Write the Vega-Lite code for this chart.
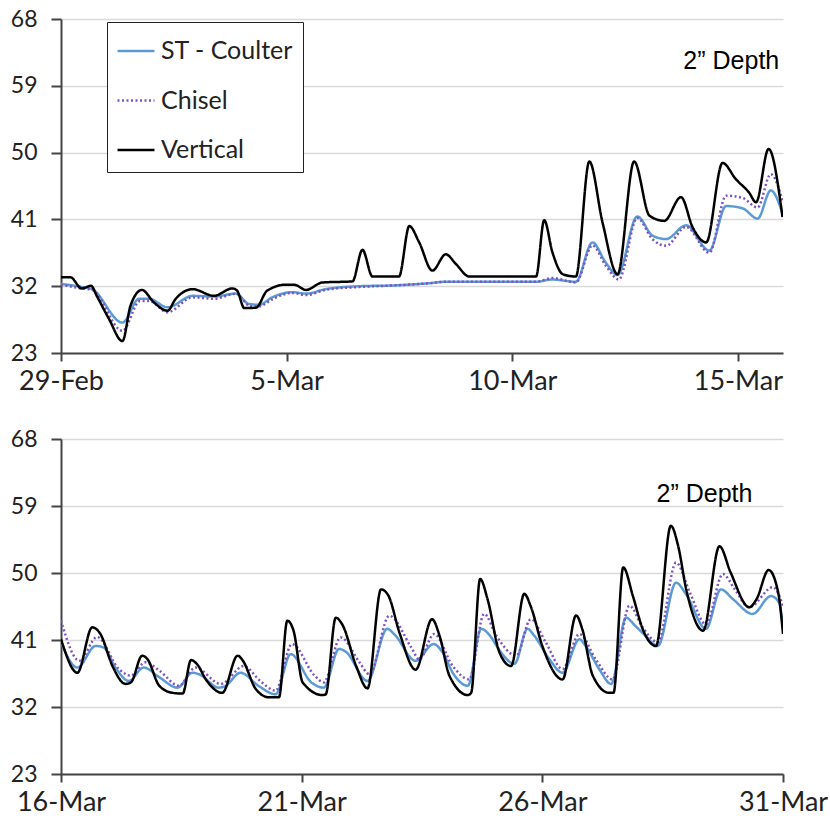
{
  "$schema": "https://vega.github.io/schema/vega-lite/v6.json",
  "background": "white",
  "padding": {"left": 10, "top": 8, "right": 0, "bottom": 0},
  "spacing": 34,
  "config": {
    "view": {"stroke": null},
    "font": "Lato",
    "axis": {
      "domainColor": "#444",
      "domainWidth": 2,
      "tickColor": "#444",
      "tickWidth": 2,
      "labelColor": "#222",
      "labelFont": "Lato",
      "title": null
    },
    "axisY": {
      "gridColor": "#d9d9d9",
      "gridWidth": 1.5,
      "tickSize": 10,
      "labelPadding": 14,
      "labelFontSize": 23
    },
    "axisX": {
      "grid": false,
      "tickSize": 8,
      "labelPadding": 7,
      "labelFontSize": 27,
      "labelFlush": false,
      "labelOverlap": false,
      "labelBound": false
    }
  },
  "resolve": {"legend": {"color": "independent", "strokeDash": "independent"}},
  "datasets": {
    "top": [
      {"series": "ST - Coulter", "time": "2016-02-29T00:00", "temp": 32.3},
      {"series": "ST - Coulter", "time": "2016-02-29T11:00", "temp": 31.9},
      {"series": "ST - Coulter", "time": "2016-02-29T16:30", "temp": 31.6},
      {"series": "ST - Coulter", "time": "2016-03-01T08:40", "temp": 27.1},
      {"series": "ST - Coulter", "time": "2016-03-01T17:30", "temp": 30.3},
      {"series": "ST - Coulter", "time": "2016-03-01T22:50", "temp": 30.3},
      {"series": "ST - Coulter", "time": "2016-03-02T08:40", "temp": 29.15},
      {"series": "ST - Coulter", "time": "2016-03-02T22:00", "temp": 30.7},
      {"series": "ST - Coulter", "time": "2016-03-03T09:20", "temp": 30.6},
      {"series": "ST - Coulter", "time": "2016-03-03T21:00", "temp": 31.0},
      {"series": "ST - Coulter", "time": "2016-03-04T04:00", "temp": 29.6},
      {"series": "ST - Coulter", "time": "2016-03-04T09:20", "temp": 29.5},
      {"series": "ST - Coulter", "time": "2016-03-04T16:20", "temp": 30.5},
      {"series": "ST - Coulter", "time": "2016-03-05T03:00", "temp": 31.2},
      {"series": "ST - Coulter", "time": "2016-03-05T10:20", "temp": 31.0},
      {"series": "ST - Coulter", "time": "2016-03-05T20:40", "temp": 31.6},
      {"series": "ST - Coulter", "time": "2016-03-06T14:40", "temp": 32.0},
      {"series": "ST - Coulter", "time": "2016-03-07T08:30", "temp": 32.1},
      {"series": "ST - Coulter", "time": "2016-03-08T03:50", "temp": 32.4},
      {"series": "ST - Coulter", "time": "2016-03-08T12:40", "temp": 32.6},
      {"series": "ST - Coulter", "time": "2016-03-10T12:40", "temp": 32.6},
      {"series": "ST - Coulter", "time": "2016-03-10T21:20", "temp": 32.9},
      {"series": "ST - Coulter", "time": "2016-03-11T09:50", "temp": 32.6},
      {"series": "ST - Coulter", "time": "2016-03-11T18:40", "temp": 37.9},
      {"series": "ST - Coulter", "time": "2016-03-12T01:40", "temp": 35.2},
      {"series": "ST - Coulter", "time": "2016-03-12T08:00", "temp": 33.5},
      {"series": "ST - Coulter", "time": "2016-03-12T18:30", "temp": 41.4},
      {"series": "ST - Coulter", "time": "2016-03-13T02:40", "temp": 38.8},
      {"series": "ST - Coulter", "time": "2016-03-13T09:50", "temp": 38.35},
      {"series": "ST - Coulter", "time": "2016-03-13T20:25", "temp": 40.2},
      {"series": "ST - Coulter", "time": "2016-03-14T08:50", "temp": 36.8},
      {"series": "ST - Coulter", "time": "2016-03-14T17:45", "temp": 42.8},
      {"series": "ST - Coulter", "time": "2016-03-15T02:25", "temp": 42.5},
      {"series": "ST - Coulter", "time": "2016-03-15T10:30", "temp": 41.1},
      {"series": "ST - Coulter", "time": "2016-03-15T17:30", "temp": 44.9},
      {"series": "ST - Coulter", "time": "2016-03-15T23:45", "temp": 41.8},

      {"series": "Chisel", "time": "2016-02-29T00:00", "temp": 32.2},
      {"series": "Chisel", "time": "2016-02-29T11:00", "temp": 31.7},
      {"series": "Chisel", "time": "2016-02-29T16:30", "temp": 31.5},
      {"series": "Chisel", "time": "2016-03-01T08:40", "temp": 26.0},
      {"series": "Chisel", "time": "2016-03-01T18:00", "temp": 30.0},
      {"series": "Chisel", "time": "2016-03-01T22:50", "temp": 30.0},
      {"series": "Chisel", "time": "2016-03-02T08:40", "temp": 28.5},
      {"series": "Chisel", "time": "2016-03-02T22:00", "temp": 30.5},
      {"series": "Chisel", "time": "2016-03-03T09:20", "temp": 30.3},
      {"series": "Chisel", "time": "2016-03-03T21:00", "temp": 31.0},
      {"series": "Chisel", "time": "2016-03-04T04:50", "temp": 29.3},
      {"series": "Chisel", "time": "2016-03-04T09:20", "temp": 29.3},
      {"series": "Chisel", "time": "2016-03-04T16:50", "temp": 30.3},
      {"series": "Chisel", "time": "2016-03-05T03:00", "temp": 31.1},
      {"series": "Chisel", "time": "2016-03-05T10:20", "temp": 30.8},
      {"series": "Chisel", "time": "2016-03-05T20:40", "temp": 31.5},
      {"series": "Chisel", "time": "2016-03-06T14:40", "temp": 31.9},
      {"series": "Chisel", "time": "2016-03-07T08:30", "temp": 32.1},
      {"series": "Chisel", "time": "2016-03-08T03:50", "temp": 32.4},
      {"series": "Chisel", "time": "2016-03-08T12:40", "temp": 32.6},
      {"series": "Chisel", "time": "2016-03-10T12:40", "temp": 32.6},
      {"series": "Chisel", "time": "2016-03-10T21:20", "temp": 33.1},
      {"series": "Chisel", "time": "2016-03-11T09:50", "temp": 32.5},
      {"series": "Chisel", "time": "2016-03-11T18:40", "temp": 37.5},
      {"series": "Chisel", "time": "2016-03-12T01:40", "temp": 34.8},
      {"series": "Chisel", "time": "2016-03-12T08:40", "temp": 32.9},
      {"series": "Chisel", "time": "2016-03-12T18:30", "temp": 41.2},
      {"series": "Chisel", "time": "2016-03-13T02:40", "temp": 38.3},
      {"series": "Chisel", "time": "2016-03-13T09:50", "temp": 37.45},
      {"series": "Chisel", "time": "2016-03-13T20:25", "temp": 40.0},
      {"series": "Chisel", "time": "2016-03-14T08:50", "temp": 36.5},
      {"series": "Chisel", "time": "2016-03-14T17:45", "temp": 44.2},
      {"series": "Chisel", "time": "2016-03-15T02:25", "temp": 43.9},
      {"series": "Chisel", "time": "2016-03-15T10:30", "temp": 42.6},
      {"series": "Chisel", "time": "2016-03-15T17:30", "temp": 47.1},
      {"series": "Chisel", "time": "2016-03-15T23:45", "temp": 43.5},

      {"series": "Vertical", "time": "2016-02-29T00:00", "temp": 33.2},
      {"series": "Vertical", "time": "2016-02-29T05:00", "temp": 33.2},
      {"series": "Vertical", "time": "2016-02-29T11:00", "temp": 31.7},
      {"series": "Vertical", "time": "2016-02-29T16:00", "temp": 32.05},
      {"series": "Vertical", "time": "2016-02-29T19:00", "temp": 30.7},
      {"series": "Vertical", "time": "2016-03-01T01:30", "temp": 27.6},
      {"series": "Vertical", "time": "2016-03-01T08:40", "temp": 24.6},
      {"series": "Vertical", "time": "2016-03-01T13:00", "temp": 29.4},
      {"series": "Vertical", "time": "2016-03-01T19:00", "temp": 31.5},
      {"series": "Vertical", "time": "2016-03-02T01:30", "temp": 29.8},
      {"series": "Vertical", "time": "2016-03-02T08:40", "temp": 28.7},
      {"series": "Vertical", "time": "2016-03-02T13:00", "temp": 30.3},
      {"series": "Vertical", "time": "2016-03-02T22:00", "temp": 31.6},
      {"series": "Vertical", "time": "2016-03-03T09:20", "temp": 30.7},
      {"series": "Vertical", "time": "2016-03-03T19:10", "temp": 31.7},
      {"series": "Vertical", "time": "2016-03-03T21:40", "temp": 31.4},
      {"series": "Vertical", "time": "2016-03-04T01:30", "temp": 29.05},
      {"series": "Vertical", "time": "2016-03-04T07:40", "temp": 29.1},
      {"series": "Vertical", "time": "2016-03-04T13:40", "temp": 31.4},
      {"series": "Vertical", "time": "2016-03-04T23:30", "temp": 32.2},
      {"series": "Vertical", "time": "2016-03-05T04:00", "temp": 32.2},
      {"series": "Vertical", "time": "2016-03-05T10:20", "temp": 31.5},
      {"series": "Vertical", "time": "2016-03-05T19:00", "temp": 32.5},
      {"series": "Vertical", "time": "2016-03-06T11:00", "temp": 32.65},
      {"series": "Vertical", "time": "2016-03-06T16:20", "temp": 36.9},
      {"series": "Vertical", "time": "2016-03-06T21:40", "temp": 33.3},
      {"series": "Vertical", "time": "2016-03-07T11:45", "temp": 33.3},
      {"series": "Vertical", "time": "2016-03-07T17:15", "temp": 40.1},
      {"series": "Vertical", "time": "2016-03-07T22:30", "temp": 37.9},
      {"series": "Vertical", "time": "2016-03-08T05:30", "temp": 34.1},
      {"series": "Vertical", "time": "2016-03-08T12:40", "temp": 36.3},
      {"series": "Vertical", "time": "2016-03-08T18:00", "temp": 35.0},
      {"series": "Vertical", "time": "2016-03-09T01:10", "temp": 33.3},
      {"series": "Vertical", "time": "2016-03-10T12:40", "temp": 33.3},
      {"series": "Vertical", "time": "2016-03-10T17:00", "temp": 40.9},
      {"series": "Vertical", "time": "2016-03-10T21:20", "temp": 36.6},
      {"series": "Vertical", "time": "2016-03-11T03:00", "temp": 33.6},
      {"series": "Vertical", "time": "2016-03-11T09:50", "temp": 33.3},
      {"series": "Vertical", "time": "2016-03-11T17:00", "temp": 48.8},
      {"series": "Vertical", "time": "2016-03-12T00:00", "temp": 40.6},
      {"series": "Vertical", "time": "2016-03-12T08:00", "temp": 33.6},
      {"series": "Vertical", "time": "2016-03-12T16:50", "temp": 48.8},
      {"series": "Vertical", "time": "2016-03-13T01:00", "temp": 41.5},
      {"series": "Vertical", "time": "2016-03-13T08:50", "temp": 40.8},
      {"series": "Vertical", "time": "2016-03-13T17:45", "temp": 44.0},
      {"series": "Vertical", "time": "2016-03-14T00:00", "temp": 39.9},
      {"series": "Vertical", "time": "2016-03-14T07:10", "temp": 37.9},
      {"series": "Vertical", "time": "2016-03-14T15:50", "temp": 48.6},
      {"series": "Vertical", "time": "2016-03-14T23:00", "temp": 46.4},
      {"series": "Vertical", "time": "2016-03-15T06:00", "temp": 44.6},
      {"series": "Vertical", "time": "2016-03-15T09:40", "temp": 43.3},
      {"series": "Vertical", "time": "2016-03-15T16:20", "temp": 50.5},
      {"series": "Vertical", "time": "2016-03-15T23:45", "temp": 41.3}
    ],
    "bottom": [
      {"series": "ST - Coulter", "time": "2016-03-16T00:00", "temp": 40.7},
      {"series": "ST - Coulter", "time": "2016-03-16T08:10", "temp": 37.3},
      {"series": "ST - Coulter", "time": "2016-03-16T17:15", "temp": 40.2},
      {"series": "ST - Coulter", "time": "2016-03-16T21:10", "temp": 40.0},
      {"series": "ST - Coulter", "time": "2016-03-17T03:35", "temp": 37.1},
      {"series": "ST - Coulter", "time": "2016-03-17T09:50", "temp": 35.5},
      {"series": "ST - Coulter", "time": "2016-03-17T17:15", "temp": 37.3},
      {"series": "ST - Coulter", "time": "2016-03-18T01:00", "temp": 36.0},
      {"series": "ST - Coulter", "time": "2016-03-18T10:05", "temp": 34.6},
      {"series": "ST - Coulter", "time": "2016-03-18T17:30", "temp": 36.6},
      {"series": "ST - Coulter", "time": "2016-03-18T20:50", "temp": 36.4},
      {"series": "ST - Coulter", "time": "2016-03-19T06:40", "temp": 34.6},
      {"series": "ST - Coulter", "time": "2016-03-19T09:50", "temp": 34.8},
      {"series": "ST - Coulter", "time": "2016-03-19T17:30", "temp": 36.6},
      {"series": "ST - Coulter", "time": "2016-03-20T02:40", "temp": 34.8},
      {"series": "ST - Coulter", "time": "2016-03-20T11:00", "temp": 33.7},
      {"series": "ST - Coulter", "time": "2016-03-20T18:30", "temp": 39.1},
      {"series": "ST - Coulter", "time": "2016-03-21T04:50", "temp": 35.3},
      {"series": "ST - Coulter", "time": "2016-03-21T11:00", "temp": 34.6},
      {"series": "ST - Coulter", "time": "2016-03-21T18:40", "temp": 39.8},
      {"series": "ST - Coulter", "time": "2016-03-21T22:05", "temp": 39.4},
      {"series": "ST - Coulter", "time": "2016-03-22T08:50", "temp": 35.5},
      {"series": "ST - Coulter", "time": "2016-03-22T18:40", "temp": 42.5},
      {"series": "ST - Coulter", "time": "2016-03-22T22:05", "temp": 41.8},
      {"series": "ST - Coulter", "time": "2016-03-23T08:50", "temp": 38.2},
      {"series": "ST - Coulter", "time": "2016-03-23T17:45", "temp": 40.45},
      {"series": "ST - Coulter", "time": "2016-03-23T22:20", "temp": 39.3},
      {"series": "ST - Coulter", "time": "2016-03-24T03:20", "temp": 36.6},
      {"series": "ST - Coulter", "time": "2016-03-24T10:50", "temp": 34.85},
      {"series": "ST - Coulter", "time": "2016-03-24T17:30", "temp": 42.5},
      {"series": "ST - Coulter", "time": "2016-03-24T21:50", "temp": 41.6},
      {"series": "ST - Coulter", "time": "2016-03-25T02:40", "temp": 39.6},
      {"series": "ST - Coulter", "time": "2016-03-25T10:05", "temp": 37.8},
      {"series": "ST - Coulter", "time": "2016-03-25T16:35", "temp": 42.5},
      {"series": "ST - Coulter", "time": "2016-03-25T19:55", "temp": 41.6},
      {"series": "ST - Coulter", "time": "2016-03-26T03:20", "temp": 38.5},
      {"series": "ST - Coulter", "time": "2016-03-26T10:05", "temp": 36.6},
      {"series": "ST - Coulter", "time": "2016-03-26T18:30", "temp": 41.1},
      {"series": "ST - Coulter", "time": "2016-03-26T21:35", "temp": 40.2},
      {"series": "ST - Coulter", "time": "2016-03-27T04:20", "temp": 37.1},
      {"series": "ST - Coulter", "time": "2016-03-27T10:20", "temp": 35.1},
      {"series": "ST - Coulter", "time": "2016-03-27T17:45", "temp": 44.0},
      {"series": "ST - Coulter", "time": "2016-03-27T22:20", "temp": 42.9},
      {"series": "ST - Coulter", "time": "2016-03-28T03:20", "temp": 41.6},
      {"series": "ST - Coulter", "time": "2016-03-28T09:35", "temp": 40.2},
      {"series": "ST - Coulter", "time": "2016-03-28T18:40", "temp": 48.7},
      {"series": "ST - Coulter", "time": "2016-03-28T23:45", "temp": 47.1},
      {"series": "ST - Coulter", "time": "2016-03-29T09:35", "temp": 42.5},
      {"series": "ST - Coulter", "time": "2016-03-29T17:00", "temp": 47.8},
      {"series": "ST - Coulter", "time": "2016-03-29T23:00", "temp": 46.5},
      {"series": "ST - Coulter", "time": "2016-03-30T08:50", "temp": 44.5},
      {"series": "ST - Coulter", "time": "2016-03-30T18:00", "temp": 46.9},
      {"series": "ST - Coulter", "time": "2016-03-30T22:05", "temp": 46.0},
      {"series": "ST - Coulter", "time": "2016-03-31T00:00", "temp": 42.6},

      {"series": "Chisel", "time": "2016-03-16T00:00", "temp": 43.6},
      {"series": "Chisel", "time": "2016-03-16T09:10", "temp": 38.2},
      {"series": "Chisel", "time": "2016-03-16T18:00", "temp": 41.4},
      {"series": "Chisel", "time": "2016-03-17T04:50", "temp": 37.1},
      {"series": "Chisel", "time": "2016-03-17T10:50", "temp": 36.2},
      {"series": "Chisel", "time": "2016-03-17T18:00", "temp": 38.0},
      {"series": "Chisel", "time": "2016-03-18T01:00", "temp": 36.9},
      {"series": "Chisel", "time": "2016-03-18T10:50", "temp": 34.85},
      {"series": "Chisel", "time": "2016-03-18T19:00", "temp": 37.3},
      {"series": "Chisel", "time": "2016-03-19T07:40", "temp": 35.1},
      {"series": "Chisel", "time": "2016-03-19T19:10", "temp": 37.5},
      {"series": "Chisel", "time": "2016-03-20T03:20", "temp": 35.5},
      {"series": "Chisel", "time": "2016-03-20T11:00", "temp": 34.2},
      {"series": "Chisel", "time": "2016-03-20T19:10", "temp": 40.45},
      {"series": "Chisel", "time": "2016-03-21T06:30", "temp": 36.2},
      {"series": "Chisel", "time": "2016-03-21T11:00", "temp": 35.3},
      {"series": "Chisel", "time": "2016-03-21T19:25", "temp": 41.35},
      {"series": "Chisel", "time": "2016-03-22T04:50", "temp": 38.0},
      {"series": "Chisel", "time": "2016-03-22T09:50", "temp": 36.4},
      {"series": "Chisel", "time": "2016-03-22T19:40", "temp": 44.25},
      {"series": "Chisel", "time": "2016-03-23T06:40", "temp": 40.0},
      {"series": "Chisel", "time": "2016-03-23T10:35", "temp": 38.4},
      {"series": "Chisel", "time": "2016-03-23T18:00", "temp": 41.8},
      {"series": "Chisel", "time": "2016-03-24T03:20", "temp": 37.5},
      {"series": "Chisel", "time": "2016-03-24T11:30", "temp": 35.7},
      {"series": "Chisel", "time": "2016-03-24T19:00", "temp": 44.5},
      {"series": "Chisel", "time": "2016-03-25T01:00", "temp": 41.6},
      {"series": "Chisel", "time": "2016-03-25T11:00", "temp": 38.9},
      {"series": "Chisel", "time": "2016-03-25T18:15", "temp": 43.8},
      {"series": "Chisel", "time": "2016-03-26T01:40", "temp": 40.7},
      {"series": "Chisel", "time": "2016-03-26T10:05", "temp": 37.1},
      {"series": "Chisel", "time": "2016-03-26T18:30", "temp": 41.8},
      {"series": "Chisel", "time": "2016-03-27T02:40", "temp": 38.4},
      {"series": "Chisel", "time": "2016-03-27T11:00", "temp": 35.7},
      {"series": "Chisel", "time": "2016-03-27T19:25", "temp": 45.6},
      {"series": "Chisel", "time": "2016-03-28T02:00", "temp": 42.7},
      {"series": "Chisel", "time": "2016-03-28T09:35", "temp": 40.7},
      {"series": "Chisel", "time": "2016-03-28T18:40", "temp": 51.4},
      {"series": "Chisel", "time": "2016-03-29T01:40", "temp": 47.3},
      {"series": "Chisel", "time": "2016-03-29T09:35", "temp": 43.1},
      {"series": "Chisel", "time": "2016-03-29T18:00", "temp": 49.85},
      {"series": "Chisel", "time": "2016-03-30T00:00", "temp": 47.8},
      {"series": "Chisel", "time": "2016-03-30T07:10", "temp": 45.4},
      {"series": "Chisel", "time": "2016-03-30T19:00", "temp": 48.1},
      {"series": "Chisel", "time": "2016-03-31T00:00", "temp": 45.6},

      {"series": "Vertical", "time": "2016-03-16T00:00", "temp": 41.1},
      {"series": "Vertical", "time": "2016-03-16T08:10", "temp": 36.6},
      {"series": "Vertical", "time": "2016-03-16T15:35", "temp": 42.7},
      {"series": "Vertical", "time": "2016-03-16T19:40", "temp": 41.8},
      {"series": "Vertical", "time": "2016-03-17T01:40", "temp": 37.5},
      {"series": "Vertical", "time": "2016-03-17T08:10", "temp": 35.1},
      {"series": "Vertical", "time": "2016-03-17T10:50", "temp": 35.3},
      {"series": "Vertical", "time": "2016-03-17T16:30", "temp": 38.9},
      {"series": "Vertical", "time": "2016-03-17T19:10", "temp": 38.4},
      {"series": "Vertical", "time": "2016-03-18T01:00", "temp": 34.85},
      {"series": "Vertical", "time": "2016-03-18T07:40", "temp": 33.9},
      {"series": "Vertical", "time": "2016-03-18T12:40", "temp": 33.8},
      {"series": "Vertical", "time": "2016-03-18T16:50", "temp": 38.3},
      {"series": "Vertical", "time": "2016-03-18T20:00", "temp": 37.7},
      {"series": "Vertical", "time": "2016-03-19T00:15", "temp": 35.7},
      {"series": "Vertical", "time": "2016-03-19T08:25", "temp": 33.9},
      {"series": "Vertical", "time": "2016-03-19T16:05", "temp": 38.9},
      {"series": "Vertical", "time": "2016-03-19T18:30", "temp": 38.3},
      {"series": "Vertical", "time": "2016-03-20T01:10", "temp": 34.4},
      {"series": "Vertical", "time": "2016-03-20T07:40", "temp": 33.3},
      {"series": "Vertical", "time": "2016-03-20T12:40", "temp": 33.3},
      {"series": "Vertical", "time": "2016-03-20T16:50", "temp": 43.6},
      {"series": "Vertical", "time": "2016-03-20T20:00", "temp": 42.2},
      {"series": "Vertical", "time": "2016-03-21T00:30", "temp": 35.3},
      {"series": "Vertical", "time": "2016-03-21T10:20", "temp": 33.6},
      {"series": "Vertical", "time": "2016-03-21T12:00", "temp": 33.7},
      {"series": "Vertical", "time": "2016-03-21T17:00", "temp": 44.0},
      {"series": "Vertical", "time": "2016-03-21T20:25", "temp": 43.0},
      {"series": "Vertical", "time": "2016-03-22T03:10", "temp": 37.5},
      {"series": "Vertical", "time": "2016-03-22T08:50", "temp": 34.5},
      {"series": "Vertical", "time": "2016-03-22T15:35", "temp": 47.8},
      {"series": "Vertical", "time": "2016-03-22T19:10", "temp": 47.0},
      {"series": "Vertical", "time": "2016-03-23T00:45", "temp": 42.0},
      {"series": "Vertical", "time": "2016-03-23T08:50", "temp": 37.0},
      {"series": "Vertical", "time": "2016-03-23T17:00", "temp": 43.8},
      {"series": "Vertical", "time": "2016-03-23T20:50", "temp": 41.5},
      {"series": "Vertical", "time": "2016-03-24T01:40", "temp": 36.2},
      {"series": "Vertical", "time": "2016-03-24T10:50", "temp": 33.6},
      {"series": "Vertical", "time": "2016-03-24T12:30", "temp": 33.9},
      {"series": "Vertical", "time": "2016-03-24T17:00", "temp": 49.2},
      {"series": "Vertical", "time": "2016-03-24T20:40", "temp": 46.5},
      {"series": "Vertical", "time": "2016-03-25T02:40", "temp": 39.3},
      {"series": "Vertical", "time": "2016-03-25T08:25", "temp": 37.5},
      {"series": "Vertical", "time": "2016-03-25T15:00", "temp": 47.2},
      {"series": "Vertical", "time": "2016-03-25T18:15", "temp": 45.5},
      {"series": "Vertical", "time": "2016-03-26T00:00", "temp": 40.2},
      {"series": "Vertical", "time": "2016-03-26T10:05", "temp": 35.7},
      {"series": "Vertical", "time": "2016-03-26T16:50", "temp": 44.3},
      {"series": "Vertical", "time": "2016-03-26T20:00", "temp": 42.4},
      {"series": "Vertical", "time": "2016-03-27T01:10", "temp": 36.2},
      {"series": "Vertical", "time": "2016-03-27T09:20", "temp": 33.9},
      {"series": "Vertical", "time": "2016-03-27T11:30", "temp": 33.9},
      {"series": "Vertical", "time": "2016-03-27T16:20", "temp": 50.75},
      {"series": "Vertical", "time": "2016-03-27T21:10", "temp": 46.9},
      {"series": "Vertical", "time": "2016-03-28T02:00", "temp": 42.5},
      {"series": "Vertical", "time": "2016-03-28T08:40", "temp": 40.2},
      {"series": "Vertical", "time": "2016-03-28T16:05", "temp": 56.35},
      {"series": "Vertical", "time": "2016-03-28T19:40", "temp": 53.7},
      {"series": "Vertical", "time": "2016-03-28T23:45", "temp": 47.8},
      {"series": "Vertical", "time": "2016-03-29T08:10", "temp": 42.25},
      {"series": "Vertical", "time": "2016-03-29T16:20", "temp": 53.6},
      {"series": "Vertical", "time": "2016-03-29T21:50", "temp": 50.1},
      {"series": "Vertical", "time": "2016-03-30T07:10", "temp": 45.4},
      {"series": "Vertical", "time": "2016-03-30T10:50", "temp": 46.5},
      {"series": "Vertical", "time": "2016-03-30T16:50", "temp": 50.4},
      {"series": "Vertical", "time": "2016-03-30T21:35", "temp": 47.4},
      {"series": "Vertical", "time": "2016-03-31T00:00", "temp": 41.8}
    ]
  },
  "vconcat": [
    {
      "width": 722,
      "height": 334,
      "layer": [
        {
          "data": {"name": "top"},
          "mark": {"type": "line", "interpolate": "monotone", "strokeWidth": 2.5, "clip": true},
          "encoding": {
            "x": {
              "field": "time", "type": "temporal",
              "scale": {"domain": [{"year": 2016, "month": "feb", "date": 29}, {"year": 2016, "month": "mar", "date": 16}]},
              "axis": {
                "format": "%-d-%b",
                "values": [
                  {"year": 2016, "month": "feb", "date": 29},
                  {"year": 2016, "month": "mar", "date": 5},
                  {"year": 2016, "month": "mar", "date": 10},
                  {"year": 2016, "month": "mar", "date": 15}
                ]
              }
            },
            "y": {
              "field": "temp", "type": "quantitative",
              "scale": {"domain": [23, 68], "nice": false, "zero": false},
              "axis": {"values": [23, 32, 41, 50, 59, 68]}
            },
            "color": {
              "field": "series", "type": "nominal",
              "scale": {"domain": ["ST - Coulter", "Chisel", "Vertical"], "range": ["#5b9bd5", "#7b52c6", "#000000"]},
              "legend": {
                "title": null, "orient": "none", "legendX": 46, "legendY": 3,
                "strokeColor": "#222", "fillColor": "white", "padding": 9,
                "symbolType": "stroke", "symbolSize": 1369, "symbolStrokeWidth": 2.5,
                "labelFontSize": 25, "labelFont": "Lato", "labelColor": "#222",
                "rowPadding": 16.5, "labelOffset": 5, "labelLimit": 300
              }
            },
            "strokeDash": {
              "field": "series", "type": "nominal",
              "scale": {"domain": ["ST - Coulter", "Chisel", "Vertical"], "range": [[1, 0], [2, 2.5], [1, 0]]},
              "legend": {
                "title": null, "orient": "none", "legendX": 46, "legendY": 3,
                "strokeColor": "#222", "fillColor": "white", "padding": 9,
                "symbolType": "stroke", "symbolSize": 1369, "symbolStrokeWidth": 2.5,
                "labelFontSize": 25, "labelFont": "Lato", "labelColor": "#222",
                "rowPadding": 16.5, "labelOffset": 5, "labelLimit": 300
              }
            }
          }
        },
        {
          "data": {"values": [{"time": "2016-03-15T22:00", "temp": 62.3, "label": "2\u201d Depth"}]},
          "mark": {"type": "text", "align": "right", "baseline": "middle", "font": "Liberation Sans", "fontSize": 25, "color": "#000"},
          "encoding": {
            "x": {"field": "time", "type": "temporal"},
            "y": {"field": "temp", "type": "quantitative"},
            "text": {"field": "label"}
          }
        }
      ]
    },
    {
      "width": 722,
      "height": 335,
      "layer": [
        {
          "data": {"name": "bottom"},
          "mark": {"type": "line", "interpolate": "monotone", "strokeWidth": 2.5, "clip": true},
          "encoding": {
            "x": {
              "field": "time", "type": "temporal",
              "scale": {"domain": [{"year": 2016, "month": "mar", "date": 16}, {"year": 2016, "month": "mar", "date": 31}]},
              "axis": {
                "format": "%-d-%b",
                "values": [
                  {"year": 2016, "month": "mar", "date": 16},
                  {"year": 2016, "month": "mar", "date": 21},
                  {"year": 2016, "month": "mar", "date": 26},
                  {"year": 2016, "month": "mar", "date": 31}
                ]
              }
            },
            "y": {
              "field": "temp", "type": "quantitative",
              "scale": {"domain": [23, 68], "nice": false, "zero": false},
              "axis": {"values": [23, 32, 41, 50, 59, 68]}
            },
            "color": {
              "field": "series", "type": "nominal",
              "scale": {"domain": ["ST - Coulter", "Chisel", "Vertical"], "range": ["#5b9bd5", "#7b52c6", "#000000"]},
              "legend": null
            },
            "strokeDash": {
              "field": "series", "type": "nominal",
              "scale": {"domain": ["ST - Coulter", "Chisel", "Vertical"], "range": [[1, 0], [2, 2.5], [1, 0]]},
              "legend": null
            }
          }
        },
        {
          "data": {"values": [{"time": "2016-03-29T08:50", "temp": 60.6, "label": "2\u201d Depth"}]},
          "mark": {"type": "text", "align": "center", "baseline": "middle", "font": "Liberation Sans", "fontSize": 25, "color": "#000"},
          "encoding": {
            "x": {"field": "time", "type": "temporal"},
            "y": {"field": "temp", "type": "quantitative"},
            "text": {"field": "label"}
          }
        }
      ]
    }
  ]
}
